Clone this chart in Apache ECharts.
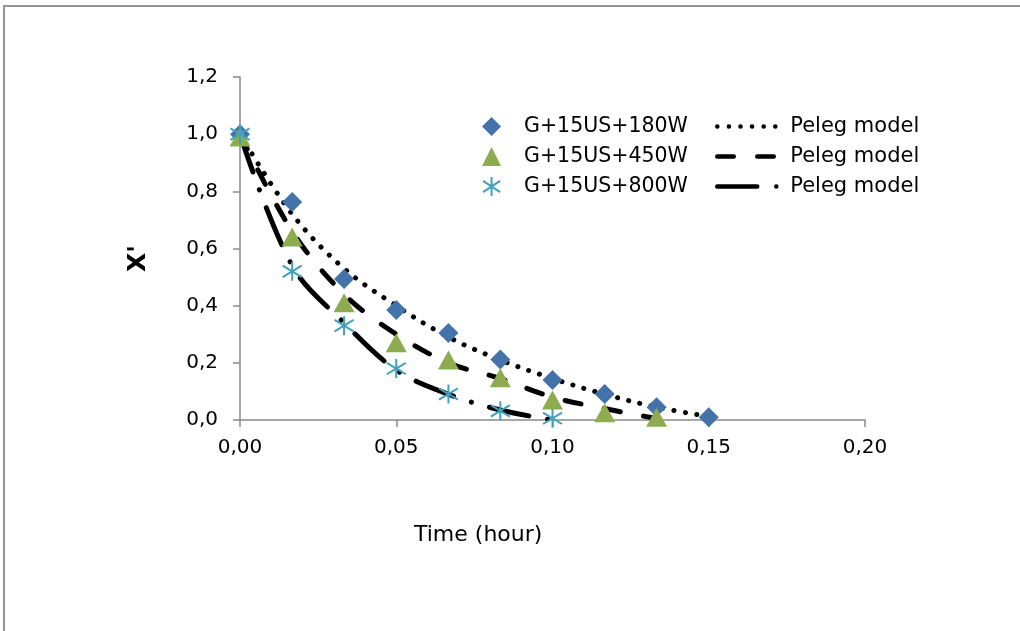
<!DOCTYPE html>
<html>
<head>
<meta charset="utf-8">
<script src="https://cdn.jsdelivr.net/npm/echarts@6/dist/echarts.min.js"></script>
<style>
  html, body { margin: 0; padding: 0; background: #fff; }
  #chart { width: 1020px; height: 631px; }
</style>
</head>
<body>
<div id="chart"></div>
<script>
// time in hours (1 min steps)
var time = [0, 0.0167, 0.0333, 0.05, 0.0667, 0.0833, 0.1, 0.1167, 0.1333, 0.15];

// measured X'
var exp180 = [1.0, 0.763, 0.493, 0.385, 0.304, 0.212, 0.14, 0.091, 0.045, 0.01];
var exp450 = [0.99, 0.64, 0.41, 0.27, 0.21, 0.148, 0.07, 0.025, 0.01];
var exp800 = [1.0, 0.52, 0.33, 0.18, 0.091, 0.032, 0.006];

// Peleg model curves
var peleg180 = [1.0, 0.72, 0.53, 0.40, 0.29, 0.21, 0.145, 0.09, 0.045, 0.012];
var peleg450 = [1.0, 0.66, 0.44, 0.30, 0.20, 0.145, 0.08, 0.04, 0.005];
var peleg800 = [1.0, 0.54, 0.34, 0.175, 0.09, 0.035, 0.0];

var xTicks = [0, 0.05, 0.10, 0.15, 0.20];
var yTicks = [0, 0.2, 0.4, 0.6, 0.8, 1.0, 1.2];

var names = ['G+15US+180W', 'G+15US+450W', 'G+15US+800W'];
var modelNames = ['Peleg model', 'Peleg model ', 'Peleg model  '];

function pairs(vals) {
  return vals.map(function (v, i) { return [time[i], v]; });
}

var font = 'DejaVu Sans';
var asterisk = 'path://M0,-10L0,10M-9,-6L9,6M-9,6L9,-6';

var myChart = echarts.init(document.getElementById('chart'));

var option = {
  animation: false,
  backgroundColor: '#fff',
  grid: { left: 240, right: 155, top: 77, bottom: 211 },
  xAxis: {
    type: 'value',
    min: xTicks[0],
    max: xTicks[xTicks.length - 1],
    interval: 0.05,
    splitLine: { show: false },
    axisLine: { lineStyle: { color: '#8a8a8a', width: 1.5 } },
    axisTick: { length: 7, lineStyle: { color: '#8a8a8a', width: 1.5 } },
    axisLabel: {
      margin: 18, color: '#000', fontFamily: font, fontSize: 20,
      formatter: function (v) { return v.toFixed(2).replace('.', ','); }
    }
  },
  yAxis: {
    type: 'value',
    min: yTicks[0],
    max: yTicks[yTicks.length - 1],
    interval: 0.2,
    splitLine: { show: false },
    axisLine: { show: true, lineStyle: { color: '#8a8a8a', width: 1.5 } },
    axisTick: { show: true, length: 7, lineStyle: { color: '#8a8a8a', width: 1.5 } },
    axisLabel: {
      margin: 22, color: '#000', fontFamily: font, fontSize: 20,
      formatter: function (v) { return v.toFixed(1).replace('.', ','); }
    },
    name: "X'",
    nameLocation: 'middle',
    nameRotate: 90,
    nameGap: 89,
    nameTextStyle: {
      color: '#000', fontFamily: font, fontSize: 25, fontWeight: 'bold',
      padding: [0, 20, 0, 0]
    }
  },
  legend: [
    {
      data: names,
      orient: 'vertical',
      left: 477, top: 111,
      itemWidth: 19, itemHeight: 19, itemGap: 9,
      textStyle: { fontFamily: font, fontSize: 20.5, color: '#000', padding: [0, 0, 0, 18] }
    },
    {
      data: modelNames,
      orient: 'vertical',
      left: 710, top: 111,
      itemWidth: 68, itemHeight: 19, itemGap: 9,
      lineStyle: { width: 4.5 },
      itemStyle: { opacity: 0 },
      formatter: function (n) { return n.trim(); },
      textStyle: { fontFamily: font, fontSize: 21, color: '#000' }
    }
  ],
  graphic: [
    {
      type: 'rect', silent: true,
      shape: { x: 4, y: 6, width: 2000, height: 2000 },
      style: { fill: 'none', stroke: '#959595', lineWidth: 2 }
    },
    {
      type: 'text', left: 414, top: 524,
      style: { text: 'Time (hour)', font: '22px "DejaVu Sans"', fill: '#000' }
    }
  ],
  series: [
    {
      name: names[0], type: 'scatter', data: pairs(exp180),
      symbol: 'diamond', symbolSize: 20, z: 4,
      itemStyle: { color: '#4472AB', opacity: 1 }
    },
    {
      name: modelNames[0], type: 'line', data: pairs(peleg180),
      smooth: 0.35, showSymbol: false, z: 2,
      itemStyle: { color: '#000' },
      lineStyle: { color: '#000', width: 5, type: [0.1, 11.5], cap: 'round' }
    },
    {
      name: names[1], type: 'scatter', data: pairs(exp450),
      symbol: 'triangle', symbolSize: [21, 19], z: 4,
      itemStyle: { color: '#8DAB4F', opacity: 1 }
    },
    {
      name: modelNames[1], type: 'line', data: pairs(peleg450),
      smooth: 0.35, showSymbol: false, z: 2,
      itemStyle: { color: '#000' },
      lineStyle: { color: '#000', width: 5, type: [16.5, 23.5], cap: 'round' }
    },
    {
      name: names[2], type: 'scatter', data: pairs(exp800),
      symbol: asterisk, symbolSize: 19, z: 4,
      itemStyle: { color: 'transparent', borderColor: '#3FA1BC', borderWidth: 2, opacity: 1 }
    },
    {
      name: modelNames[2], type: 'line', data: pairs(peleg800),
      smooth: 0.35, showSymbol: false, z: 2,
      itemStyle: { color: '#000' },
      lineStyle: { color: '#000', width: 5, type: [40, 19, 0.1, 19], cap: 'round' }
    }
  ]
};

myChart.setOption(option);
</script>
</body>
</html>
